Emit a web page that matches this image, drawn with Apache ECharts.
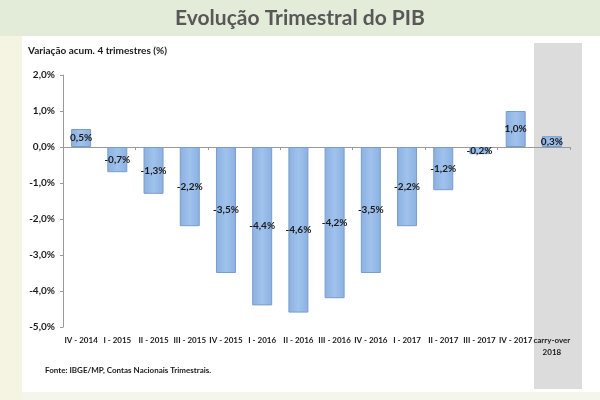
<!DOCTYPE html>
<html lang="pt">
<head>
    <meta charset="UTF-8" />
    <title>Evolução Trimestral do PIB</title>
    <script src="https://cdn.jsdelivr.net/npm/echarts@6/dist/echarts.min.js"></script>
    <style>
        html, body { margin: 0; padding: 0; }
        #main { width: 600px; height: 400px; }
    </style>
</head>
<body>
<div id="main"></div>
<script>
    // dados
    var quarters = ['IV - 2014', 'I - 2015', 'II - 2015', 'III - 2015', 'IV - 2015',
                    'I - 2016', 'II - 2016', 'III - 2016', 'IV - 2016', 'I - 2017',
                    'II - 2017', 'III - 2017', 'IV - 2017', 'carry-over\n2018'];
    var pibVar = [0.5, -0.7, -1.3, -2.2, -3.5, -4.4, -4.6, -4.2, -3.5, -2.2, -1.2, -0.2, 1.0, 0.3];

    function pct(v) {
        return v.toFixed(1).replace('.', ',') + '%';
    }

    var font = 'Lato, "Liberation Sans", sans-serif';
    var myChart = echarts.init(document.getElementById('main'));

    var option = {
        backgroundColor: '#f4f6ec',
        textStyle: { fontFamily: font },
        graphic: [
            // faixa superior
            { type: 'rect', shape: { x: 0, y: 0, width: 600, height: 36 },
              style: { fill: '#e3ebd9' }, silent: true, z: -10 },
            // faixa esquerda
            { type: 'rect', shape: { x: 0, y: 36, width: 22, height: 364 },
              style: { fill: '#f5f4e2' }, silent: true, z: -10 },
            // painel branco
            { type: 'rect', shape: { x: 22, y: 36, width: 578, height: 356 },
              style: { fill: '#ffffff' }, silent: true, z: -9 },
            // coluna cinza do carry-over
            { type: 'rect', shape: { x: 534, y: 43, width: 48, height: 346 },
              style: { fill: '#dcdcdc' }, silent: true, z: -8 },
            { type: 'text', left: 'center', top: 8,
              style: { text: 'Evolução Trimestral do PIB', fontSize: 21, fontWeight: 'bold',
                       fill: '#585858', fontFamily: font } },
            { type: 'text', left: 28, top: 46,
              style: { text: 'Variação acum. 4 trimestres (%)', fontSize: 10, fontWeight: 'bold',
                       fill: '#1a1a1a', fontFamily: font } },
            { type: 'text', left: 45, top: 366,
              style: { text: 'Fonte: IBGE/MP, Contas Nacionais Trimestrais.', fontSize: 8,
                       fontWeight: 'bold', fill: '#1a1a1a', fontFamily: font } }
        ],
        grid: {
            left: 63,
            right: 30,
            top: 75,
            bottom: 73
        },
        xAxis: [
            {
                type: 'category',
                data: quarters,
                axisLine: { onZero: true, lineStyle: { color: '#9a9a9a' } },
                axisTick: { show: true, length: 3, lineStyle: { color: '#9a9a9a' } },
                axisLabel: { show: false }
            },
            {
                type: 'category',
                data: quarters,
                position: 'bottom',
                axisLine: { show: false },
                axisTick: { show: false },
                axisLabel: {
                    interval: 0,
                    margin: 7,
                    fontSize: 8,
                    fontWeight: 'bold',
                    color: '#1a1a1a',
                    lineHeight: 12
                }
            }
        ],
        yAxis: {
            type: 'value',
            min: -5,
            max: 2,
            interval: 1,
            axisLine: { show: true, lineStyle: { color: '#9a9a9a' } },
            axisTick: { show: true, length: 3, lineStyle: { color: '#9a9a9a' } },
            splitLine: { show: false },
            axisLabel: {
                fontSize: 10,
                fontWeight: 'bold',
                color: '#1a1a1a',
                margin: 8,
                formatter: function (v) { return pct(v); }
            }
        },
        series: [
            {
                name: 'PIB',
                type: 'bar',
                xAxisIndex: 0,
                data: pibVar,
                barWidth: 20,
                itemStyle: {
                    color: new echarts.graphic.LinearGradient(0, 0, 1, 0, [
                        { offset: 0, color: '#8bb1e2' },
                        { offset: 0.5, color: '#a0c2ec' },
                        { offset: 1, color: '#8bb1e2' }
                    ]),
                    borderColor: '#7a9cca',
                    borderWidth: 1
                },
                label: {
                    show: true,
                    position: 'inside',
                    fontSize: 10,
                    fontWeight: 'bold',
                    color: '#1a1a1a',
                    formatter: function (p) { return pct(p.value); }
                }
            }
        ]
    };
    myChart.setOption(option);
</script>
</body>
</html>
